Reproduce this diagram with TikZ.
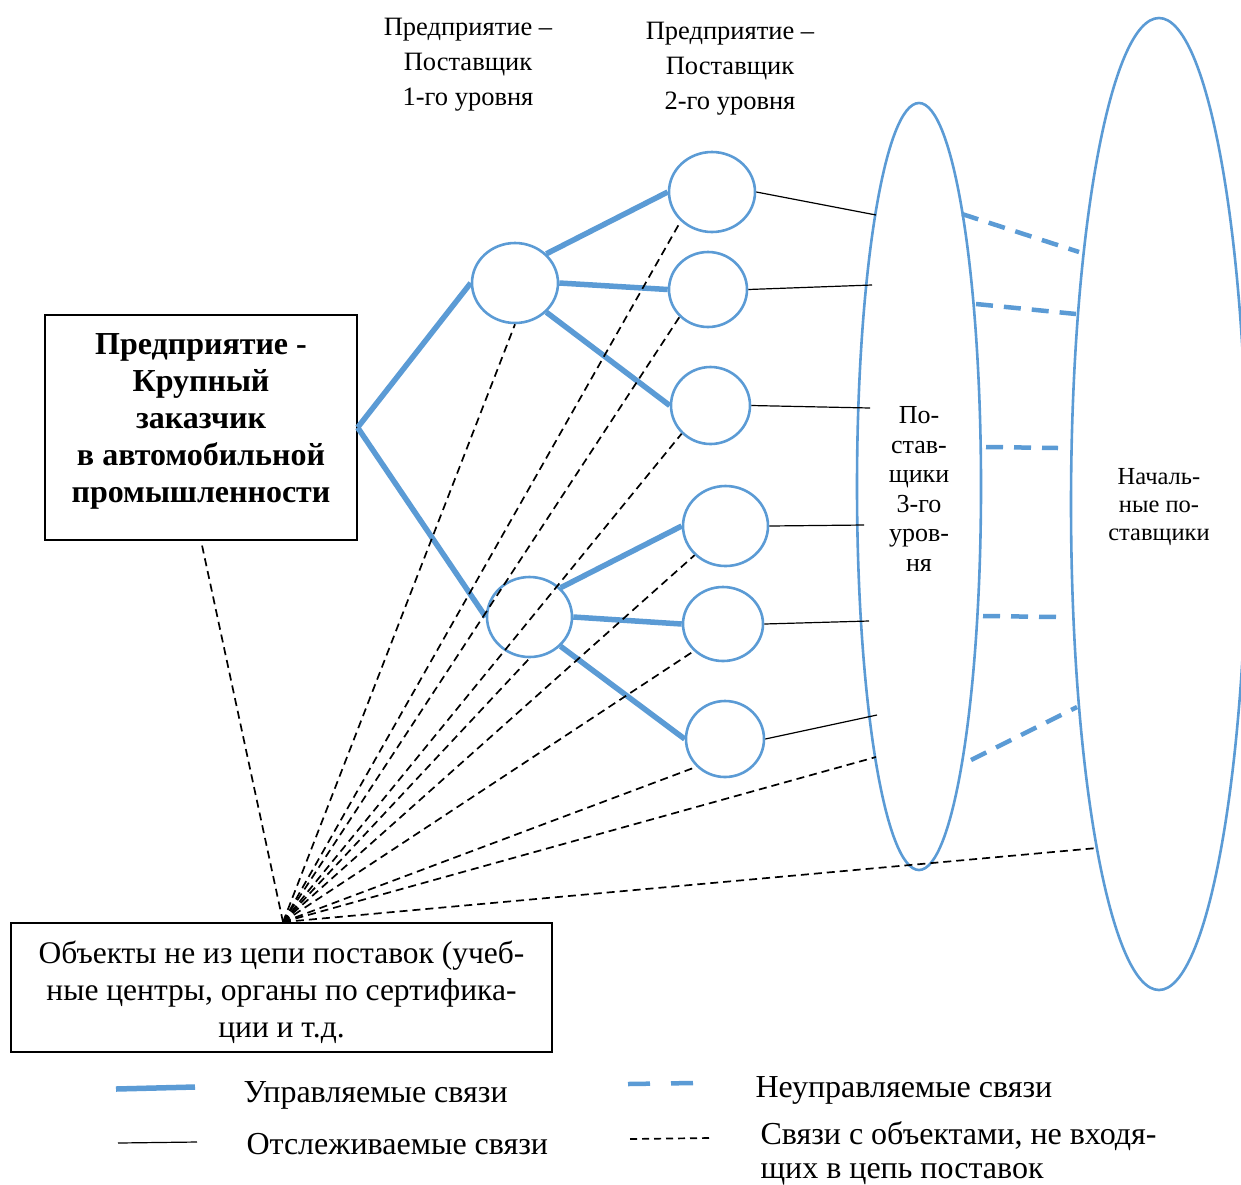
\documentclass[tikz,border=0pt]{standalone}
\usepackage{fontspec}
\setmainfont{Liberation Serif}
\usetikzlibrary{shapes.geometric}
\definecolor{linkblue}{HTML}{5B9BD5}

\begin{document}
\begin{tikzpicture}[x=1pt,y=-1pt,
  firm/.style={draw=linkblue, line width=2.6pt, ellipse, inner sep=0pt},
  managed/.style={draw=linkblue, line width=5.5pt},
  unmanaged/.style={draw=linkblue, line width=4.5pt, dash pattern=on 17pt off 11pt},
  tracked/.style={draw=black, line width=1.2pt},
  outside/.style={draw=black, line width=1.7pt, dash pattern=on 8pt off 5pt},
  framebox/.style={draw=black, line width=1.2pt, rectangle, inner sep=0pt},
  toplabel/.style={align=center, font=\fontsize{26.5}{35}\selectfont},
  legendtext/.style={anchor=west, align=left, font=\fontsize{32}{34}\selectfont}
]
\useasboundingbox (0,0) rectangle (1241,1184);

% level headings
\node[toplabel] (h1) at (468,65) {Предприятие –\\Поставщик\\1-го уровня};
\node[toplabel] (h2) at (730,69) {Предприятие –\\Поставщик\\2-го уровня};

% customer and non-chain objects
\node[framebox, minimum width=312pt, minimum height=225pt] (cust) at (201,427.5) {};
\node[align=center, font=\fontsize{32}{37}\selectfont\bfseries] (custtext) at (201,421)
  {Предприятие -\\Крупный\\заказчик\\в автомобильной\\промышленности};
\node[framebox, minimum width=541pt, minimum height=129pt, inner ysep=0pt] (other) at (281.5,987.5) {};
\node[align=center, font=\fontsize{31.5}{37}\selectfont] (othertext) at (281.5,992)
  {Объекты не из цепи поставок (учеб-\\ные центры, органы по сертифика-\\ции и т.д.};
\coordinate (hub) at (283,922);

% first-tier suppliers
\node[firm, minimum width=86pt, minimum height=80pt] (l1a) at (515,283) {};
\node[firm, minimum width=85pt, minimum height=80pt] (l1b) at (529.5,617) {};

% second-tier suppliers
\node[firm, minimum width=86pt, minimum height=80pt] (l2a) at (712,192) {};
\node[firm, minimum width=78pt, minimum height=75pt] (l2b) at (708,289.5) {};
\node[firm, minimum width=79pt, minimum height=77pt] (l2c) at (710.5,405.5) {};
\node[firm, minimum width=85pt, minimum height=80pt] (l2d) at (725.5,526) {};
\node[firm, minimum width=80pt, minimum height=74pt] (l2e) at (723,624) {};
\node[firm, minimum width=78pt, minimum height=76pt] (l2f) at (725,739) {};

% third-tier and raw-material suppliers
\node[firm, minimum width=124pt, minimum height=767pt] (t3) at (919,486.5) {};
\node[align=center, font=\fontsize{26}{29.5}\selectfont] (t3text) at (919,489)
  {По-\\став-\\щики\\3-го\\уров-\\ня};
\node[firm, minimum width=176pt, minimum height=972pt] (t4) at (1159,504) {};
\node[align=center, font=\fontsize{24.5}{28}\selectfont] (t4text) at (1159,507)
  {Началь-\\ные по-\\ставщики};

% managed links
\draw[managed] (cust.east) -- (l1a.west);
\draw[managed] (cust.east) -- (l1b.west);
\draw[managed] (l1a.north east) -- (l2a.west);
\draw[managed] (l1a.east) -- (l2b.west);
\draw[managed] (l1a.south east) -- (l2c.west);
\draw[managed] (l1b.north east) -- (l2d.west);
\draw[managed] (l1b.east) -- (l2e.west);
\draw[managed] (l1b.south east) -- (l2f.west);

% tracked links to the third tier
\coordinate (ta) at (876,215);
\coordinate (tb) at (872,285);
\coordinate (tc) at (870,408);
\coordinate (td) at (864,525);
\coordinate (te) at (869,621);
\coordinate (tf) at (877,715);
\draw[tracked] (l2a.east) -- (ta);
\draw[tracked] (l2b.east) -- (tb);
\draw[tracked] (l2c.east) -- (tc);
\draw[tracked] (l2d.east) -- (td);
\draw[tracked] (l2e.east) -- (te);
\draw[tracked] (l2f.east) -- (tf);

% unmanaged links between third tier and raw-material suppliers
\coordinate (u1s) at (962,214);  \coordinate (u1e) at (1079,252);
\coordinate (u2s) at (976,304);  \coordinate (u2e) at (1076,314);
\coordinate (u3s) at (986,447);  \coordinate (u3e) at (1058,448);
\coordinate (u4s) at (983,616);  \coordinate (u4e) at (1057,617);
\coordinate (u5s) at (971,760);  \coordinate (u5e) at (1077,707);
\draw[unmanaged] (u1s) -- (u1e);
\draw[unmanaged] (u2s) -- (u2e);
\draw[unmanaged] (u3s) -- (u3e);
\draw[unmanaged] (u4s) -- (u4e);
\draw[unmanaged] (u5s) -- (u5e);

% links with objects outside the supply chain
\coordinate (o3) at (876,757);
\coordinate (o4) at (1097,848);
\draw[outside] (hub) -- (cust.south);
\draw[outside] (hub) -- (l1a.south);
\draw[outside] (hub) -- (l1b.south);
\draw[outside] (hub) -- (l2a.south west);
\draw[outside] (hub) -- (l2b.south west);
\draw[outside] (hub) -- (l2c.south west);
\draw[outside] (hub) -- (l2d.south west);
\draw[outside] (hub) -- (l2e.south west);
\draw[outside] (hub) -- (l2f.south west);
\draw[outside] (hub) -- (o3);
\draw[outside] (hub) -- (o4);

% legend
\coordinate (k1a) at (116,1089); \coordinate (k1b) at (195,1087);
\coordinate (k2a) at (118,1143); \coordinate (k2b) at (197,1142);
\coordinate (k3a) at (628,1084); \coordinate (k3b) at (694,1083);
\coordinate (k4a) at (630,1139); \coordinate (k4b) at (710,1138);
\draw[managed] (k1a) -- (k1b);
\draw[tracked] (k2a) -- (k2b);
\draw[unmanaged, dash pattern=on 22pt off 21pt] (k3a) -- (k3b);
\draw[outside, dash pattern=on 7pt off 5pt] (k4a) -- (k4b);
\node[legendtext] (lg1) at (240,1095) {Управляемые связи};
\node[legendtext] (lg2) at (243,1144) {Отслеживаемые связи};
\node[legendtext] (lg3) at (752,1090) {Неуправляемые связи};
\node[legendtext] (lg4) at (757,1153) {Связи с объектами, не входя-\\щих в цепь поставок};
\end{tikzpicture}
\end{document}
